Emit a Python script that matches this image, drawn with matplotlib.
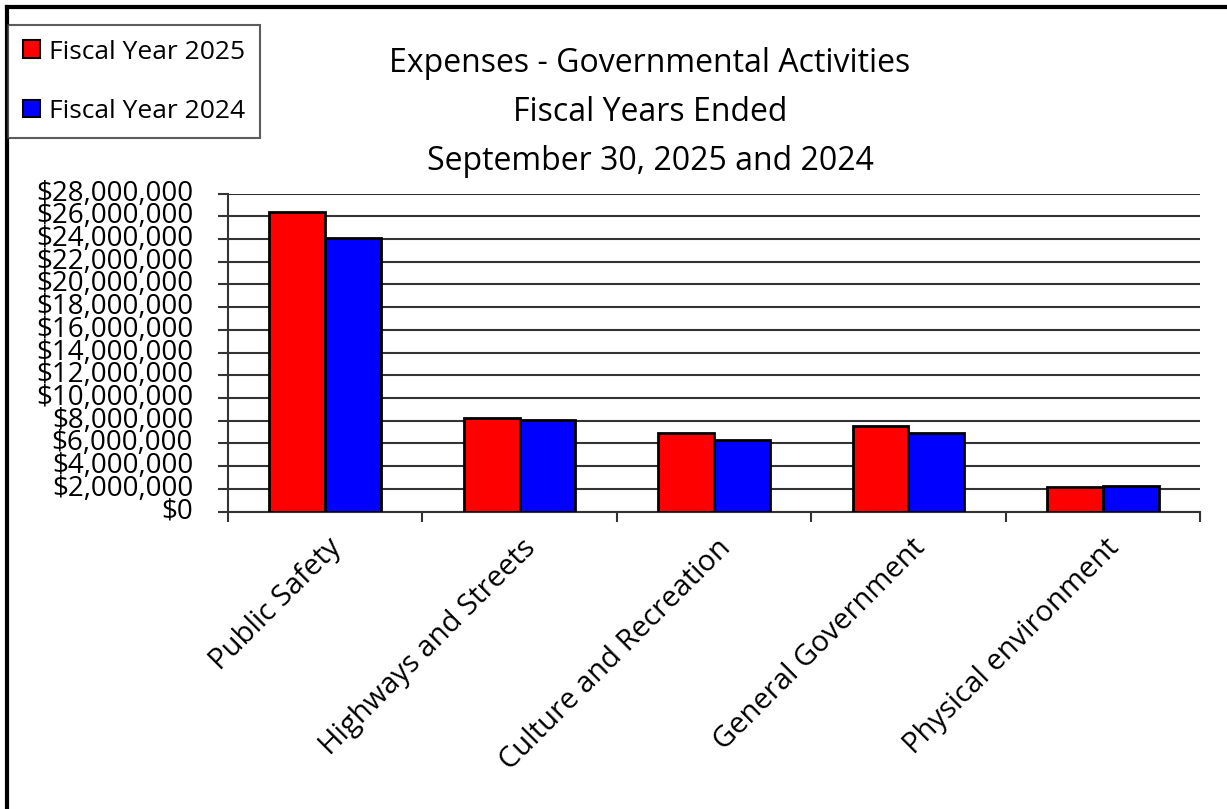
import matplotlib
matplotlib.use("Agg")
import matplotlib.pyplot as plt
import matplotlib.transforms as mtransforms
from matplotlib.lines import Line2D
from matplotlib.patches import Patch
import numpy as np

categories = ["Public Safety", "Highways and Streets", "Culture and Recreation",
              "General Government", "Physical environment"]
fy2025 = [26_350_000, 8_250_000, 6_900_000, 7_500_000, 2_150_000]
fy2024 = [24_050_000, 8_040_000, 6_300_000, 6_900_000, 2_270_000]
series_labels = ["Fiscal Year 2025", "Fiscal Year 2024"]
title_lines = ["Expenses - Governmental Activities", "Fiscal Years Ended",
               "September 30, 2025 and 2024"]
yticks = list(range(0, 28_000_001, 2_000_000))

plt.rcParams['font.family'] = ['Open Sans', 'DejaVu Sans']

fig = plt.figure(figsize=(12.27, 8.09), dpi=100)
ax = fig.add_axes([228/1227, 1-511.5/809, (1200-228)/1227, (511.5-193.5)/809])

x = np.arange(len(categories))
w = 0.287
ax.bar(x - w/2, fy2025, w, color='#ff0000', edgecolor='black', linewidth=2, zorder=3)
ax.bar(x + w/2, fy2024, w, color='#0000ff', edgecolor='black', linewidth=2, zorder=3)

ax.set_xlim(-0.5, len(categories) - 0.5)
ax.set_ylim(0, 28_000_000)
ax.set_yticks(yticks)
ax.set_yticklabels([f"${v:,.0f}" for v in yticks], fontsize=20)
ax.yaxis.grid(True, color='#333333', linewidth=1.5, zorder=0)
ax.tick_params(axis='y', length=7.2, width=1.5, color='#333333', pad=18)
for lbl in ax.get_yticklabels():
    lbl.set_va('center')

ax.set_xticks(np.arange(len(categories) + 1) - 0.5)
ax.set_xticklabels([])
ax.tick_params(axis='x', length=7.2, width=1.5, color='#333333')
for s in ['top', 'right']:
    ax.spines[s].set_visible(False)
ax.spines['left'].set_color('#333333')
ax.spines['left'].set_linewidth(1.5)
ax.spines['bottom'].set_color('#333333')
ax.spines['bottom'].set_linewidth(1.5)

offset = mtransforms.ScaledTranslation(2/100, -22/100, fig.dpi_scale_trans)
for i, c in enumerate(categories):
    ax.text(i, 0, c, transform=mtransforms.blended_transform_factory(ax.transData, ax.transAxes) + offset,
            rotation=45, ha='right', va='top', rotation_mode='anchor', fontsize=21)

for i, line in enumerate(title_lines):
    fig.text(650/1227, 1 - (64 + 48.5*i)/809, line, ha='center', va='center', fontsize=23)

handles = [Patch(facecolor='#ff0000', edgecolor='black', linewidth=1.5),
           Patch(facecolor='#0000ff', edgecolor='black', linewidth=1.5)]
leg = fig.legend(handles, series_labels, loc='upper left',
                 bbox_to_anchor=(8/1227, 1-25/809), fontsize=19,
                 frameon=True, fancybox=False, edgecolor='#333333',
                 handlelength=0.65, handleheight=0.65, handletextpad=0.35,
                 labelspacing=1.3, borderpad=0.55, borderaxespad=0)
leg.get_frame().set_linewidth(1.5)

fig.add_artist(Line2D([7/1227, 1], [1-7/809, 1-7/809], transform=fig.transFigure, color='black', linewidth=3))
fig.add_artist(Line2D([7/1227, 7/1227], [0, 1-7/809], transform=fig.transFigure, color='black', linewidth=3))

fig.savefig("out.png", dpi=100)
